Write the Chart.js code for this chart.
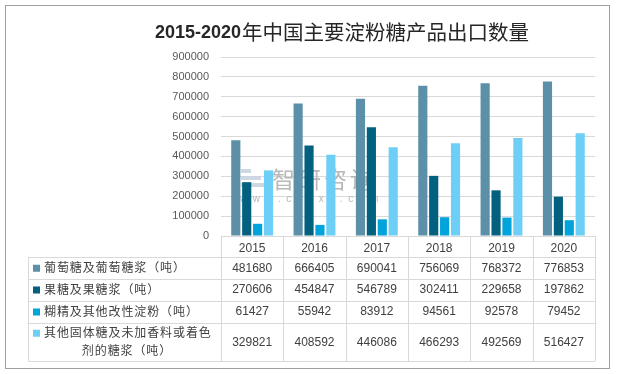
<!DOCTYPE html>
<html>
<head>
<meta charset="utf-8">
<script src="https://cdn.jsdelivr.net/npm/chart.js@4/dist/chart.umd.min.js"></script>
<style>
  html, body { margin: 0; padding: 0; background: #fff; }
  #wrap { width: 617px; height: 374px; }
</style>
</head>
<body>
<div id="wrap"><canvas id="chart" width="617" height="374"></canvas></div>
<script>
const titleYears = '2015-2020';
const titleText = '年中国主要淀粉糖产品出口数量';
const years = ['2015', '2016', '2017', '2018', '2019', '2020'];
const seriesNames = ['葡萄糖及葡萄糖浆（吨）', '果糖及果糖浆（吨）', '糊精及其他改性淀粉（吨）', '其他固体糖及未加香料或着色剂的糖浆（吨）'];
// how the row labels wrap inside the table
const rowLabelLines = [
  ['葡萄糖及葡萄糖浆（吨）'],
  ['果糖及果糖浆（吨）'],
  ['糊精及其他改性淀粉（吨）'],
  ['其他固体糖及未加香料或着色', '剂的糖浆（吨）']
];
const glucose = [481680, 666405, 690041, 756069, 768372, 776853];
const fructose = [270606, 454847, 546789, 302411, 229658, 197862];
const dextrin = [61427, 55942, 83912, 94561, 92578, 79452];
const otherSugar = [329821, 408592, 446086, 466293, 492569, 516427];
const yMax = 900000;
const yStep = 100000;

const colors = ['#5B90A8', '#03607F', '#00A3DA', '#6DCFF5'];
const cjk = '"Noto Sans CJK SC", "Noto Sans", sans-serif';
const num = '"Liberation Sans", Arial, sans-serif';

const allSeries = [glucose, fructose, dextrin, otherSugar];

// table rows (y of row borders) under the plot
const tableLeft = 28.5;
const rowBorders = [257, 278.5, 300.5, 322.5, 361];

const tablePlugin = {
  id: 'dataTable',
  beforeDraw(chart) {
    const ctx = chart.ctx;
    ctx.save();
    ctx.fillStyle = '#fff';
    ctx.fillRect(0, 0, chart.width, chart.height);
    ctx.strokeStyle = '#A0A0A0';
    ctx.lineWidth = 1;
    ctx.strokeRect(5.5, 5.5, 604, 363);
    ctx.restore();
  },
  beforeDatasetsDraw(chart) {
    // watermark sits behind the bars
    const ctx = chart.ctx;
    ctx.save();
    ctx.fillStyle = 'rgba(200,212,225,0.9)';
    ctx.fillRect(241, 169, 10, 4);
    ctx.fillRect(241, 176, 20, 4);
    ctx.fillRect(241, 183, 24, 4);
    ctx.fillStyle = '#B8B8B8';
    ctx.font = '23px ' + cjk;
    ctx.textBaseline = 'middle';
    ctx.letterSpacing = '3px';
    ctx.fillText('智研咨询', 272, 179);
    ctx.font = '10px ' + num;
    ctx.letterSpacing = '5.6px';
    ctx.fillText('www.chyxx.com', 240, 199);
    ctx.letterSpacing = '0px';
    ctx.restore();
  },
  afterDraw(chart) {
    const ctx = chart.ctx;
    const x = chart.scales.x;
    const area = chart.chartArea;
    const colW = (area.right - area.left) / years.length;
    ctx.save();
    ctx.letterSpacing = '0px';

    // title: narrow bold digits + CJK text
    ctx.fillStyle = '#262626';
    ctx.textBaseline = 'middle';
    ctx.textAlign = 'left';
    ctx.font = 'bold 18px ' + num;
    ctx.fillText(titleYears, 155, 33);
    const w = ctx.measureText(titleYears).width;
    ctx.font = '20.5px ' + cjk;
    ctx.fillText(titleText, 155 + w + 1, 32);

    // grid of the table
    ctx.strokeStyle = '#D9D9D9';
    ctx.lineWidth = 1;
    ctx.beginPath();
    for (let i = 0; i <= years.length; i++) {
      const px = Math.round(x.getPixelForValue(i) - colW / 2) + 0.5;
      ctx.moveTo(px, area.bottom);
      ctx.lineTo(px, rowBorders[rowBorders.length - 1]);
    }
    ctx.moveTo(tableLeft, rowBorders[0]);
    ctx.lineTo(tableLeft, rowBorders[rowBorders.length - 1]);
    rowBorders.forEach(y => {
      ctx.moveTo(tableLeft, Math.round(y) + 0.5);
      ctx.lineTo(area.right, Math.round(y) + 0.5);
    });
    ctx.stroke();

    // values
    ctx.fillStyle = '#404040';
    ctx.font = '12px ' + num;
    ctx.textAlign = 'center';
    allSeries.forEach((vals, r) => {
      const cy = (rowBorders[r] + rowBorders[r + 1]) / 2 + 0.5;
      vals.forEach((v, i) => ctx.fillText(String(v), x.getPixelForValue(i), cy));
    });

    // row labels with legend keys
    ctx.letterSpacing = '0.9px';
    rowLabelLines.forEach((lines, r) => {
      const cy = (rowBorders[r] + rowBorders[r + 1]) / 2;
      ctx.fillStyle = colors[r];
      if (lines.length === 1) {
        ctx.fillRect(33, cy - 3, 7, 7);
        ctx.fillStyle = '#404040';
        ctx.font = '12px ' + cjk;
        ctx.textAlign = 'left';
        ctx.fillText(lines[0], 44, cy);
      } else {
        ctx.fillRect(33, cy - 12, 7, 7);
        ctx.fillStyle = '#404040';
        ctx.font = '12px ' + cjk;
        ctx.textAlign = 'left';
        ctx.fillText(lines[0], 44, cy - 9);
        ctx.textAlign = 'center';
        ctx.fillText(lines[1], 127, cy + 9);
      }
    });
    ctx.restore();
  }
};

new Chart(document.getElementById('chart'), {
  type: 'bar',
  data: {
    labels: years,
    datasets: allSeries.map((vals, i) => ({
      label: seriesNames[i],
      data: vals,
      backgroundColor: colors[i],
      borderWidth: 0,
      categoryPercentage: 0.7,
      barPercentage: 0.84
    }))
  },
  options: {
    responsive: false,
    animation: false,
    layout: { padding: { top: 57, right: 22, left: 0, bottom: 0 } },
    plugins: {
      legend: { display: false },
      title: { display: false },
      tooltip: { enabled: false }
    },
    scales: {
      x: {
        afterFit: s => { s.height = 138; },
        grid: { display: false, drawTicks: false },
        border: { display: false },
        ticks: { color: '#404040', font: { family: num, size: 12 }, padding: 5 }
      },
      y: {
        min: 0,
        max: yMax,
        afterFit: s => { s.width = 221; },
        grid: { color: '#D9D9D9', drawTicks: false },
        border: { display: false },
        ticks: {
          stepSize: yStep,
          padding: 12,
          color: '#595959',
          font: { family: num, size: 11 },
          callback: v => String(v)
        }
      }
    }
  },
  plugins: [tablePlugin]
});
</script>
</body>
</html>
